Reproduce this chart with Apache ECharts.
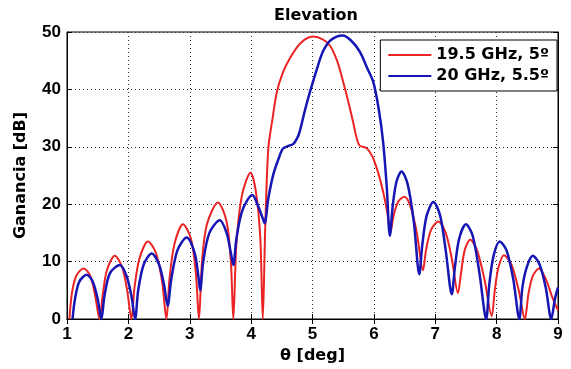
<!DOCTYPE html>
<html><head><meta charset="utf-8">
<script src="https://cdn.jsdelivr.net/npm/echarts@6/dist/echarts.min.js"></script>
<style>html,body{margin:0;padding:0;background:#fff}#c{width:571px;height:369px}</style>
</head><body><div id="c"></div>
<script>
const titleText = 'Elevation';
const xName = 'θ [deg]';
const yName = 'Ganancia [dB]';
const seriesNames = ['19.5 GHz, 5º', '20 GHz, 5.5º'];
const xTicks = [1, 9, 1];
const yTicks = [0, 50, 10];

const thetaRed = [1.04,1.08,1.15,1.27,1.38,1.46,1.53,1.58,1.65,1.78,1.90,1.98,2.05,2.10,2.18,2.32,2.45,2.55,2.62,2.67,2.75,2.89,3.02,3.10,3.15,3.20,3.28,3.46,3.60,3.67,3.71,3.76,3.85,3.99,4.08,4.15,4.19,4.23,4.28,4.35,4.42,4.52,4.63,4.80,5.00,5.15,5.28,5.40,5.50,5.58,5.66,5.72,5.77,5.88,5.95,5.99,6.07,6.15,6.22,6.27,6.32,6.40,6.50,6.60,6.70,6.80,6.85,6.93,7.05,7.17,7.27,7.37,7.42,7.48,7.57,7.68,7.80,7.92,7.97,8.03,8.12,8.24,8.36,8.46,8.52,8.59,8.69,8.80,8.90,9.00];
const gainRed  = [0,4.5,7.5,8.8,7.5,4.0,0,4.0,8.5,11.0,9.0,5.0,0,5.5,10.5,13.5,11.5,6.5,0,7,13,16.5,14,8,0,10,16.5,20.3,17,10,0,13,21.5,25.5,22,14,0,16,29.7,35,39.6,43,45.4,48,49.2,48.8,47.7,45,41.3,38,34.4,31.5,30.2,29.8,28.8,28.0,25.5,22.2,18.5,15.0,18,20.5,21.3,19.5,15,8.5,12,15.5,17.0,15,10.5,4.5,8,12,13.8,12,7,0.5,5,9,11.1,9.5,5,0,4.5,7.5,8.8,7,4,1.5];

const thetaBlue = [1.09,1.13,1.20,1.32,1.42,1.50,1.56,1.61,1.70,1.86,1.97,2.05,2.11,2.16,2.25,2.38,2.50,2.58,2.64,2.70,2.80,2.95,3.08,3.14,3.17,3.22,3.32,3.49,3.60,3.67,3.71,3.76,3.86,4.02,4.12,4.19,4.22,4.28,4.36,4.45,4.52,4.62,4.69,4.75,4.79,4.88,4.96,5.07,5.17,5.30,5.49,5.62,5.77,5.90,5.99,6.08,6.15,6.21,6.26,6.31,6.37,6.45,6.55,6.65,6.74,6.79,6.86,6.97,7.08,7.17,7.27,7.32,7.39,7.50,7.61,7.72,7.83,7.88,7.95,8.05,8.16,8.27,8.37,8.42,8.49,8.59,8.70,8.80,8.89,8.95,9.00];
const gainBlue  = [0,3.5,6.5,7.7,6.5,3.5,0,4,8,9.4,7.5,4,0,5,9.5,11.4,9.5,6,2.3,7,12,14.2,11.5,7.5,5.0,10,15,17.2,15,11.5,9.4,14,19,21.6,19.5,17.5,16.7,21,25.1,28,29.7,30.2,30.5,31.5,32.6,36.5,39.6,43.5,46.6,48.6,49.4,48.6,46.6,43.5,41.3,36.5,30.9,23,14.5,20,24,25.7,23.5,17,7.8,13,18,20.4,18,12,4.3,9,14,16.5,14.5,8,0,6,11,13.5,12,7,0,5.5,9,11.0,9.5,5.5,0,3.5,5.5];

const zip = (a, b) => a.map((v, i) => [v, b[i]]);
const tickFont = 'Liberation Sans, Arial, sans-serif';
const textFont = 'DejaVu Sans, sans-serif';
const chart = echarts.init(document.getElementById('c'), null, {renderer: 'canvas'});
const gridLine = {show: true, lineStyle: {color: '#333', type: [1, 3], width: 1}};
const lbl = {color: '#000', fontWeight: 'bold', fontSize: 17, fontFamily: tickFont};
const nameStyle = {fontSize: 16, fontWeight: 'bold', fontFamily: textFont, color: '#000'};
chart.setOption({
  animation: false,
  backgroundColor: '#fff',
  title: {text: titleText, left: 311, top: 3, textAlign: 'center',
    textStyle: {fontSize: 16, fontWeight: 'bold', fontFamily: textFont, color: '#000'}},
  grid: {left: 67, right: 13, top: 32, bottom: 50, show: true, borderColor: '#000', borderWidth: 1},
  legend: {
    data: seriesNames, orient: 'vertical', right: 14, top: 40,
    backgroundColor: '#fff', borderColor: '#000', borderWidth: 1, padding: [7, 8, 7, 8],
    itemWidth: 43, itemHeight: 2, itemGap: 5, icon: 'rect',
    textStyle: {fontSize: 16, fontWeight: 'bold', fontFamily: textFont, color: '#000'}
  },
  xAxis: [{
    type: 'value', min: xTicks[0], max: xTicks[1], interval: xTicks[2],
    name: xName, nameLocation: 'middle', nameGap: 27, nameTextStyle: nameStyle,
    axisLine: {show: true, lineStyle: {color: '#000'}},
    axisTick: {show: true, inside: true, length: 5, lineStyle: {color: '#000'}},
    axisLabel: Object.assign({margin: 7}, lbl),
    splitLine: gridLine
  }, {
    type: 'value', position: 'top', min: xTicks[0], max: xTicks[1], interval: xTicks[2],
    axisLine: {show: true, lineStyle: {color: '#000'}},
    axisTick: {show: true, inside: true, length: 5, lineStyle: {color: '#000'}},
    axisLabel: {show: false}, splitLine: {show: false}
  }],
  yAxis: [{
    type: 'value', min: yTicks[0], max: yTicks[1], interval: yTicks[2],
    name: yName, nameLocation: 'middle', nameGap: 38, nameTextStyle: nameStyle,
    axisLine: {show: true, lineStyle: {color: '#000'}},
    axisTick: {show: true, inside: true, length: 5, lineStyle: {color: '#000'}},
    axisLabel: Object.assign({margin: 6}, lbl),
    splitLine: gridLine
  }, {
    type: 'value', position: 'right', min: yTicks[0], max: yTicks[1], interval: yTicks[2],
    axisLine: {show: true, lineStyle: {color: '#000'}},
    axisTick: {show: true, inside: true, length: 5, lineStyle: {color: '#000'}},
    axisLabel: {show: false}, splitLine: {show: false}
  }],
  series: [{
    name: seriesNames[0], type: 'line', data: zip(thetaRed, gainRed), showSymbol: false,
    smooth: 0.3, clip: true, color: '#ea2424', lineStyle: {width: 2}
  }, {
    name: seriesNames[1], type: 'line', data: zip(thetaBlue, gainBlue), showSymbol: false,
    smooth: 0.3, clip: true, color: '#1616b4', lineStyle: {width: 2.5}
  }]
});
</script></body></html>
